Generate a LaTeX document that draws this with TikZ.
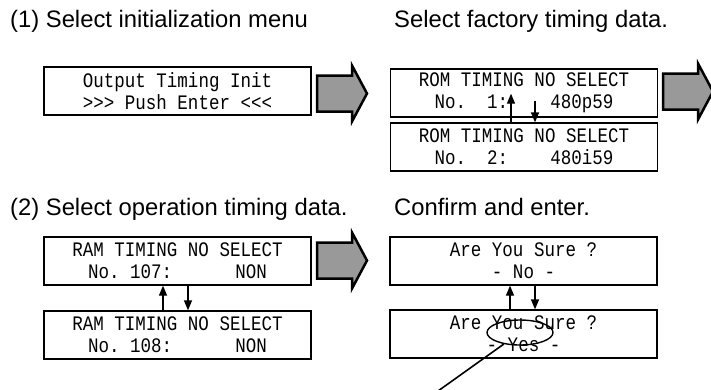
\documentclass[tikz,border=0pt]{standalone}
\usepackage{fontspec}
\setmainfont{Liberation Sans}
\newfontfamily\lcdfont[FakeStretch=0.85]{Liberation Mono}
\usetikzlibrary{calc,arrows.meta,shapes.geometric}

\begin{document}
\begin{tikzpicture}[x=1pt,y=-1pt,
  title/.style={anchor=base west,inner sep=0pt,font=\fontsize{23.8}{26}\selectfont},
  lcd/.style={draw,line width=1.3pt,minimum width=267pt,minimum height=48pt,inner sep=0pt,
    align=center,font=\lcdfont\fontsize{20.6}{22}\selectfont\frenchspacing},
  updown/.style={line width=1.3pt,-{Triangle[length=10pt,width=8pt]}},
  bigarrow/.pic={\draw[line width=2.5pt,fill=black!40,line join=miter]
    (0,-18) -- (35,-18) -- (35,-28) -- (50,0) -- (35,28) -- (35,18) -- (0,18) -- cycle;}]
\useasboundingbox (0,0) rectangle (711,389);
\node[title] (step1) at (10,27) {(1) Select initialization menu};
\node[title] (factory) at (394,27) {Select factory timing data.};
\node[title] (step2) at (10,215) {(2) Select operation timing data.};
\node[title] (confirm) at (394,215) {Confirm and enter.};
\node[lcd] (init) at (177.5,91) {Output Timing Init\\>{}>{}> Push Enter <{}<{}<};
\node[lcd] (rom1) at (524,93) {ROM TIMING NO SELECT\\No.~~1:~~~~480p59};
\node[lcd] (rom2) at (524,147) {ROM TIMING NO SELECT\\No.~~2:~~~~480i59};
\node[lcd] (ram1) at (177.5,261) {RAM TIMING NO SELECT\\No.~107:~~~~~~NON};
\node[lcd] (ram2) at (177.5,335) {RAM TIMING NO SELECT\\No.~108:~~~~~~NON};
\node[lcd] (sure1) at (523.5,261) {Are You Sure ?\\- No -};
\node[lcd] (sure2) at (523.5,334) {Are You Sure ?\\- Yes -};
\pic at (317,93.5) {bigarrow};
\pic at (663,91.5) {bigarrow};
\pic at (317,260.5) {bigarrow};
\draw[updown] ([xshift=-13pt]rom2.north) -- ([xshift=-13pt,yshift=24pt]rom1.south);
\draw[updown] ([xshift=11pt,yshift=17pt]rom1.south) -- ([xshift=11pt]rom2.north);
\draw[updown] ([xshift=-14.5pt]ram2.north) -- ([xshift=-14.5pt]ram1.south);
\draw[updown] ([xshift=10.5pt]ram1.south) -- ([xshift=10.5pt]ram2.north);
\draw[updown] ([xshift=-13.5pt]sure2.north) -- ([xshift=-13.5pt]sure1.south);
\draw[updown] ([xshift=11.5pt]sure1.south) -- ([xshift=11.5pt]sure2.north);
\node[draw,ellipse,line width=1.4pt,minimum width=66pt,minimum height=25pt,inner sep=0pt] (yesmark) at (520,332.5) {};
\coordinate (lead) at (438,391);
\draw[line width=1.6pt] (yesmark) -- (lead);
\end{tikzpicture}
\end{document}
